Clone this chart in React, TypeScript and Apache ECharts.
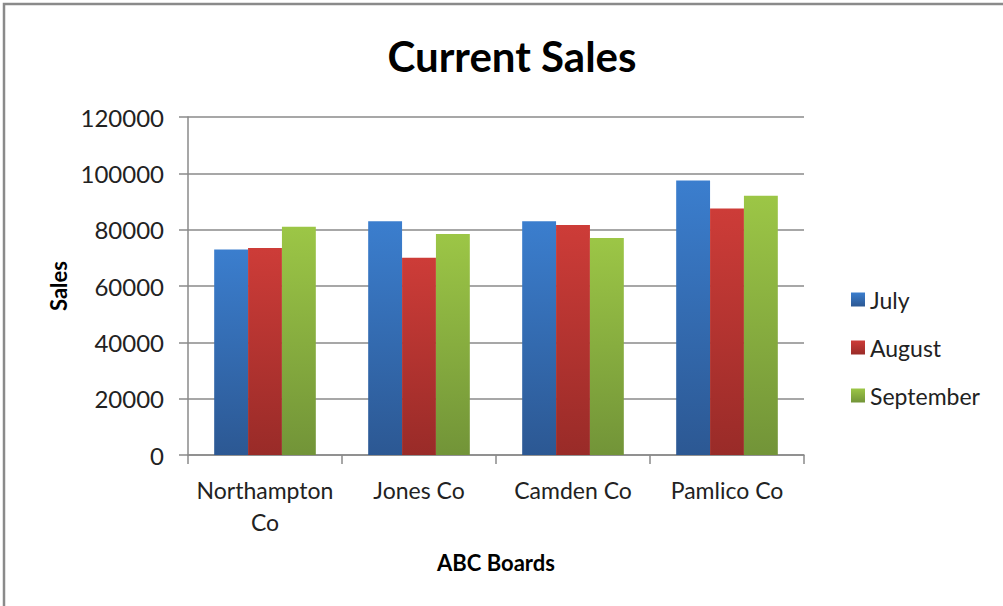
import React, { useEffect, useRef } from "react";
import * as echarts from "echarts";

const categories = ["Northampton Co", "Jones Co", "Camden Co", "Pamlico Co"];
const julyValues = [73000, 83000, 83000, 97500];
const augustValues = [73500, 70000, 81700, 87500];
const septemberValues = [81000, 78500, 77000, 92000];
const seriesNames = ["July", "August", "September"];
const yTicks = { min: 0, max: 120000, interval: 20000 };

const grad = (top: string, bottom: string) =>
  new echarts.graphic.LinearGradient(0, 0, 0, 1, [
    { offset: 0, color: top },
    { offset: 1, color: bottom },
  ]);

export default function App() {
  const ref = useRef<HTMLDivElement>(null);
  useEffect(() => {
    if (!ref.current) return;
    const chart = echarts.init(ref.current, null, { renderer: "svg" });
    const font = "Lato, 'Open Sans', sans-serif";
    const colors = [
      grad("#3B7ECE", "#2C5893"),
      grad("#CD3C38", "#992B28"),
      grad("#9CC646", "#729438"),
    ];
    const data = [julyValues, augustValues, septemberValues];
    chart.setOption({
      animation: false,
      backgroundColor: "#fff",
      textStyle: { fontFamily: font },
      graphic: [
        {
          type: "rect",
          shape: { x: 4, y: 4, width: 1200, height: 800 },
          style: { fill: "none", stroke: "#8a8a8a", lineWidth: 2.5 },
          silent: true,
        },
      ],
      title: {
        text: "Current Sales",
        left: 507,
        top: 30,
        textAlign: "center",
        textStyle: { fontFamily: font, fontSize: 42, fontWeight: "bold", color: "#000" },
      },
      legend: {
        orient: "vertical",
        left: 846,
        top: 283,
        itemWidth: 14,
        itemHeight: 14,
        itemGap: 25,
        icon: "rect",
        data: seriesNames,
        textStyle: { fontFamily: font, fontSize: 23, color: "#222" },
      },
      grid: { left: 188, right: 199, top: 117, bottom: 151, containLabel: false },
      xAxis: {
        type: "category",
        data: categories,
        name: "ABC Boards",
        nameLocation: "middle",
        nameGap: 96,
        nameTextStyle: { fontFamily: font, fontSize: 22, fontWeight: "bold", color: "#000" },
        axisLine: { lineStyle: { color: "#8a8a8a", width: 1.5 } },
        axisTick: { show: true, length: 9, lineStyle: { color: "#8a8a8a", width: 1.5 } },
        axisLabel: {
          interval: 0,
          fontFamily: font,
          fontSize: 23,
          color: "#222",
          margin: 19,
          lineHeight: 32,
          formatter: (v: string) => (v.length > 12 ? v.replace(" ", "\n") : v),
        },
      },
      yAxis: {
        type: "value",
        min: yTicks.min,
        max: yTicks.max,
        interval: yTicks.interval,
        name: "Sales",
        nameLocation: "middle",
        nameGap: 118,
        nameRotate: 90,
        nameTextStyle: { fontFamily: font, fontSize: 22, fontWeight: "bold", color: "#000" },
        axisLine: { show: true, lineStyle: { color: "#8a8a8a", width: 1.5 } },
        axisTick: { show: true, length: 9, lineStyle: { color: "#8a8a8a", width: 1.5 } },
        splitLine: { lineStyle: { color: "#8a8a8a", width: 1.5 } },
        axisLabel: {
          fontFamily: font,
          fontSize: 24,
          color: "#222",
          margin: 24,
          formatter: (v: number) => String(v),
        },
      },
      series: seriesNames.map((name, i) => ({
        name,
        type: "bar",
        data: data[i],
        barGap: "0%",
        barCategoryGap: "34%",
        itemStyle: { color: colors[i] },
      })),
    });
    return () => chart.dispose();
  }, []);
  return (
    <div
      ref={ref}
      style={{ position: "fixed", left: 0, top: 0, width: 1003, height: 606 }}
    />
  );
}
